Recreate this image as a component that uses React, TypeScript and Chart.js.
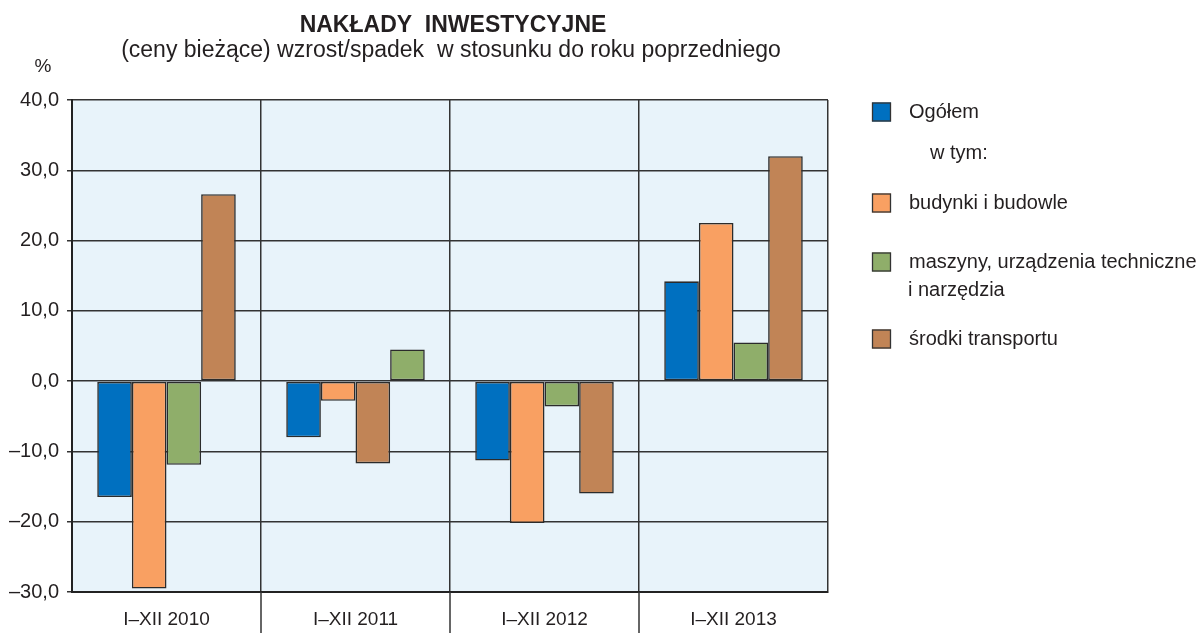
import React, { useEffect, useRef } from "react";
import { Chart, registerables } from "chart.js";

Chart.register(...registerables);

// ---- data ----
const categories = ["I–XII 2010", "I–XII 2011", "I–XII 2012", "I–XII 2013"];
const seriesNames = ["Ogółem", "budynki i budowle", "maszyny, urządzenia techniczne", "środki transportu"];
const ogolem = [-16.5, -8.0, -11.3, 14.2];
const budynki = [-29.5, -2.8, -20.2, 22.5];
const maszyny = [-11.9, 4.5, -3.6, 5.5];
const transport = [26.6, -11.7, -16.0, 32.0];
const seriesColors = ["#0070C0", "#F9A062", "#8FAE6A", "#C18456"];
// order in which the series appear inside each group, as drawn in the original
const slotOrder = [
  [0, 1, 2, 3],
  [0, 1, 3, 2],
  [0, 1, 2, 3],
  [0, 1, 2, 3],
];
const yMin = -30;
const yMax = 40;
const yStep = 10;
const titleText = "NAKŁADY  INWESTYCYJNE";
const subtitleText = "(ceny bieżące) wzrost/spadek  w stosunku do roku poprzedniego";
const unitText = "%";
const subLegendText = "w tym:";
const legendExtraLine = "i narzędzia";

const FONT = '"Liberation Sans", Arial, Helvetica, sans-serif';
const INK = "#231f20";
const GRID = "#333333";

const allSeries = [ogolem, budynki, maszyny, transport];

function fmt(v: number): string {
  const s = Math.abs(v).toFixed(1).replace(".", ",");
  return v < 0 ? "–" + s : s;
}

const decorPlugin = {
  id: "decor",
  beforeDraw(chart: any) {
    const { ctx, chartArea } = chart;
    ctx.save();
    ctx.fillStyle = "#ffffff";
    ctx.fillRect(0, 0, chart.width, chart.height);
    ctx.fillStyle = "#E8F3FA";
    ctx.fillRect(chartArea.left, chartArea.top, chartArea.right - chartArea.left, chartArea.bottom - chartArea.top);
    ctx.restore();
  },
  afterDraw(chart: any) {
    const { ctx, chartArea } = chart;
    const xs = chart.scales.x;
    ctx.save();
    // separators extending below the plot
    ctx.strokeStyle = GRID;
    ctx.lineWidth = 1.5;
    for (let i = 1; i < categories.length; i++) {
      const x = (xs.getPixelForValue(i - 1) + xs.getPixelForValue(i)) / 2;
      ctx.beginPath();
      ctx.moveTo(x, chartArea.bottom);
      ctx.lineTo(x, chart.height);
      ctx.stroke();
    }
    // titles
    ctx.fillStyle = INK;
    ctx.textAlign = "center";
    ctx.textBaseline = "alphabetic";
    ctx.font = "bold 23px " + FONT;
    ctx.fillText(titleText, 453, 32);
    ctx.font = "23px " + FONT;
    ctx.fillText(subtitleText, 451, 57);
    ctx.font = "19px " + FONT;
    ctx.fillText(unitText, 43, 72);

    // legend
    const boxX = 872;
    const box = 19;
    const textX = 909;
    const rows = [112, 203, 262, 339];
    ctx.textAlign = "left";
    ctx.textBaseline = "middle";
    ctx.font = "20px " + FONT;
    for (let s = 0; s < seriesNames.length; s++) {
      const cy = rows[s];
      ctx.fillStyle = seriesColors[s];
      ctx.fillRect(boxX, cy - box / 2, box, box);
      ctx.strokeStyle = "#333";
      ctx.lineWidth = 1.3;
      ctx.strokeRect(boxX + 0.5, cy - box / 2 + 0.5, box - 1, box - 1);
      ctx.fillStyle = INK;
      ctx.fillText(seriesNames[s], textX, cy);
    }
    ctx.fillText(subLegendText, 930, 153);
    ctx.fillText(legendExtraLine, 908, 290);
    ctx.restore();
  },
};

export default function App() {
  const ref = useRef<HTMLCanvasElement | null>(null);
  useEffect(() => {
    if (!ref.current) return;
    const datasets = [0, 1, 2, 3].map((slot) => ({
      label: "slot " + slot,
      data: categories.map((_, i) => allSeries[slotOrder[i][slot]][i]),
      backgroundColor: categories.map((_, i) => seriesColors[slotOrder[i][slot]]),
      borderColor: "#2b2b2b",
      borderWidth: 1.6,
      borderSkipped: false as any,
      categoryPercentage: 0.733,
      barPercentage: 1.0,
    }));
    const chart = new Chart(ref.current, {
      type: "bar",
      data: { labels: categories, datasets },
      options: {
        responsive: false,
        animation: false,
        devicePixelRatio: 1,
        layout: { padding: { top: 100, right: 373, bottom: 0, left: 0 } },
        plugins: { legend: { display: false }, tooltip: { enabled: false }, title: { display: false } },
        scales: {
          x: {
            offset: true,
            grid: { display: true, offset: true, color: GRID, lineWidth: 1.5, drawTicks: false },
            border: { display: true, color: "#222", width: 2 },
            ticks: { color: INK, font: { family: FONT, size: 19 }, padding: 16, maxRotation: 0 },
            afterFit: (scale: any) => {
              scale.height = 41;
            },
          },
          y: {
            min: yMin,
            max: yMax,
            ticks: {
              stepSize: yStep,
              color: INK,
              font: { family: FONT, size: 20 },
              padding: 8,
              callback: (v: any) => fmt(Number(v)),
            },
            grid: { color: GRID, lineWidth: 1.5, drawTicks: true, tickLength: 5, tickColor: GRID },
            border: { display: true, color: "#222", width: 2 },
            afterFit: (scale: any) => {
              scale.width = 72;
            },
          },
        },
      },
      plugins: [decorPlugin],
    });
    return () => chart.destroy();
  }, []);
  return (
    <div style={{ position: "absolute", left: 0, top: 0, width: 1201, height: 633 }}>
      <canvas ref={ref} width={1201} height={633} style={{ display: "block" }} />
    </div>
  );
}
